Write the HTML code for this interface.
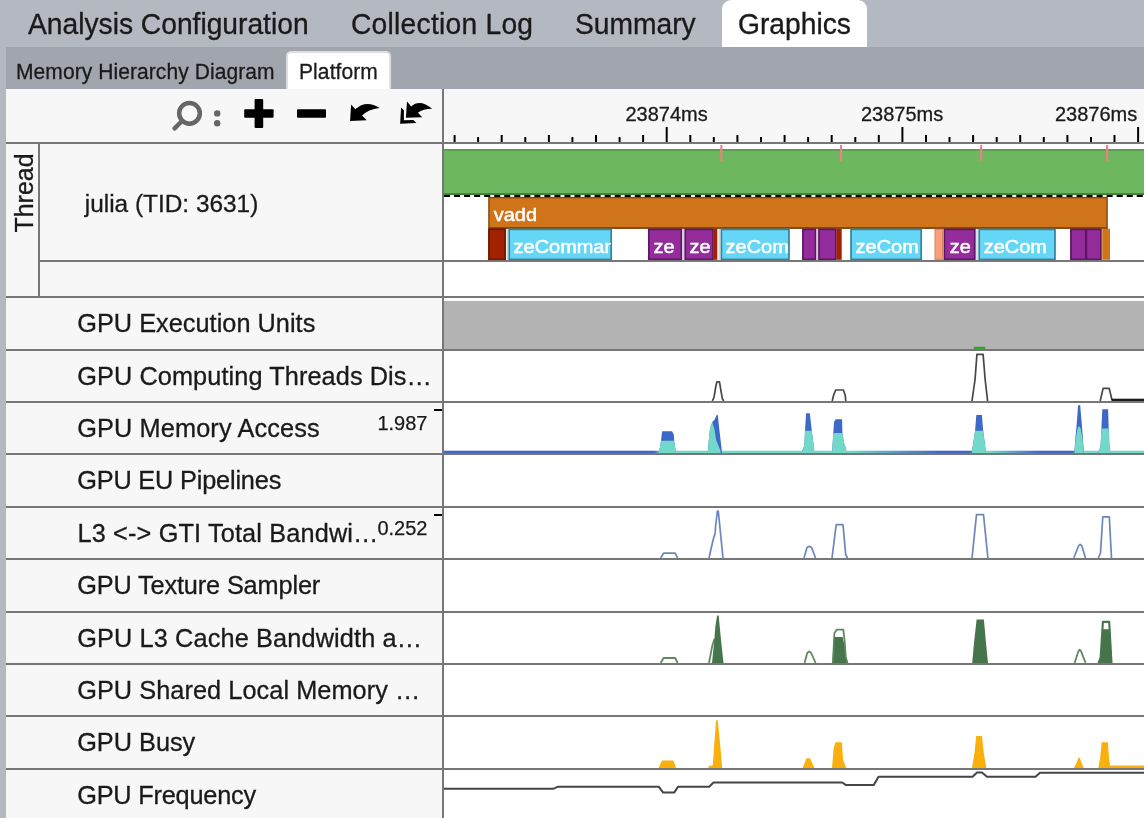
<!DOCTYPE html>
<html>
<head>
<meta charset="utf-8">
<title>Graphics - Platform</title>
<style>
html,body{margin:0;padding:0;}
body{width:1144px;height:818px;overflow:hidden;position:relative;background:#b4b8c1;font-family:"Liberation Sans",Arial,Helvetica,sans-serif;color:#1a1a1a;}
.abs{position:absolute;}
#topbar{left:0;top:0;width:1144px;height:47px;background:#b4b8c1;}
.mtab{position:absolute;top:-0.4px;height:46px;line-height:47px;font-size:30px;white-space:nowrap;-webkit-text-stroke:0.35px #1a1a1a;transform:scaleX(0.94);transform-origin:0 50%;}
#gtab{top:0;height:47px;left:722px;width:145px;transform:none;background:#fff;border-radius:9px 9px 0 0;}
#subbar{left:6px;top:47px;width:1138px;height:42px;background:#a1a5ae;}
.stab{position:absolute;font-size:21.85px;white-space:nowrap;line-height:24px;-webkit-text-stroke:0.3px #1a1a1a;transform:scaleX(0.9615);transform-origin:0 50%;}
#ptab{left:285.8px;top:50.8px;width:101px;height:40px;background:#fff;border:2px solid #dddee2;border-bottom:none;border-radius:5px 5px 0 0;}
#left{left:6px;top:89px;width:436px;height:729px;background:#f7f7f7;}
#ruler{left:444px;top:89px;width:700px;height:53px;background:#f7f7f7;}
#chartbg{left:444px;top:144px;width:700px;height:674px;background:#fff;}
.hl{position:absolute;height:2px;background:#777;}
.vl{position:absolute;width:2px;background:#777;}
.lab{-webkit-text-stroke:0.3px #1a1a1a;position:absolute;left:76px;font-size:25.3px;white-space:nowrap;line-height:30px;}
.val{-webkit-text-stroke:0.25px #1a1a1a;position:absolute;font-size:20px;white-space:nowrap;line-height:24px;text-align:right;width:80px;left:347.5px;}
.tk{position:absolute;left:434px;width:8px;height:2px;background:#000;}
.rl{position:absolute;top:102px;-webkit-text-stroke:0.3px #1a1a1a;font-size:20px;line-height:24px;white-space:nowrap;}
svg text{font-family:"Liberation Sans",Arial,Helvetica,sans-serif;}
</style>
</head>
<body>
<div id="topbar" class="abs"></div>
<div class="mtab" style="left:28px;">Analysis Configuration</div>
<div class="mtab" style="left:351px;letter-spacing:0.27px;">Collection Log</div>
<div class="mtab" style="left:575px;">Summary</div>
<div class="mtab" id="gtab"></div>
<div class="mtab" style="left:738px;">Graphics</div>

<div id="subbar" class="abs"></div>
<div id="ptab" class="abs"></div>
<div class="stab" style="left:16px;top:59.6px;letter-spacing:0.08px;">Memory Hierarchy Diagram</div>
<div class="stab" style="left:298.8px;top:59.6px;letter-spacing:0.1px;">Platform</div>

<div id="left" class="abs"></div>
<div id="ruler" class="abs"></div>
<div id="chartbg" class="abs"></div>

<!-- ruler labels -->
<div class="rl" style="left:625.5px;">23874ms</div>
<div class="rl" style="left:861px;">23875ms</div>
<div class="rl" style="left:1055px;">23876ms</div>

<!-- left panel labels -->
<div class="abs" style="left:6px;top:144px;width:32px;height:152px;">
  <div style="position:absolute;left:18.2px;top:49px;width:0;height:0;">
    <div style="position:absolute;transform:translate(-50%,-50%) rotate(-90deg);-webkit-text-stroke:0.3px #1a1a1a;font-size:25px;line-height:30px;white-space:nowrap;">Thread</div>
  </div>
</div>
<div class="lab" style="left:84.8px;top:188.5px;font-size:24.4px;">julia (TID: 3631)</div>

<div class="lab" style="top:308px;left:77.2px;letter-spacing:0.03px;">GPU Execution Units</div>
<div class="lab" style="top:361px;left:77.2px;letter-spacing:0.09px;">GPU Computing Threads Dis…</div>
<div class="lab" style="top:413px;left:77.2px;letter-spacing:0.13px;">GPU Memory Access</div>
<div class="lab" style="top:465px;left:77.2px;letter-spacing:-0.17px;">GPU EU Pipelines</div>
<div class="lab" style="top:518px;left:77.5px;letter-spacing:0.14px;">L3 &lt;-&gt; GTI Total Bandwi…</div>
<div class="lab" style="top:570px;left:77.2px;letter-spacing:-0.14px;">GPU Texture Sampler</div>
<div class="lab" style="top:622.6px;left:77.2px;letter-spacing:0.13px;">GPU L3 Cache Bandwidth a…</div>
<div class="lab" style="top:675px;left:77.2px;letter-spacing:0.06px;">GPU Shared Local Memory …</div>
<div class="lab" style="top:727px;left:77.2px;">GPU Busy</div>
<div class="lab" style="top:780px;left:77.2px;letter-spacing:-0.2px;">GPU Frequency</div>

<div class="val" style="top:411px;">1.987</div>
<div class="tk" style="top:409px;"></div>
<div class="val" style="top:516px;">0.252</div>
<div class="tk" style="top:514px;"></div>

<!-- chart svg -->
<svg class="abs" style="left:0;top:0;" width="1144" height="818" viewBox="0 0 1144 818">
<g id="toolbar-icons">
  <circle cx="189.5" cy="113.3" r="10.35" fill="none" stroke="#666" stroke-width="4.5"/>
  <line x1="181.5" y1="121.5" x2="174.6" y2="128.3" stroke="#666" stroke-width="4.5" stroke-linecap="round"/>
  <circle cx="217.2" cy="113.4" r="3.2" fill="#666"/>
  <circle cx="217.2" cy="123.3" r="3.2" fill="#666"/>
  <rect x="254.6" y="99" width="8.6" height="29" rx="1" fill="#000"/>
  <rect x="244.2" y="109.2" width="29.4" height="8.6" rx="1" fill="#000"/>
  <rect x="297" y="109.2" width="29" height="8.6" rx="1" fill="#000"/>
  <path d="M351.1,104.5 L350.1,120.9 L366.7,120.2 L362.1,115.6 Q368,109.2 379.6,107.9 Q366,99.5 355.4,109.3 Z" fill="#000"/>
  <path d="M407,101.6 L405.9,117.8 L422.2,117.2 L417.9,112.7 Q423,108.8 432.1,108.8 Q420,98.5 411.2,106.4 Z" fill="#000"/>
  <path d="M401.1,107.4 L400.1,123.7 L416.4,123 L413.4,119.9 L403.9,120.2 L403.9,110.3 Z" fill="#000"/>
</g>
<g id="ticks" stroke="#000" stroke-width="2"><line x1="454.6" y1="135" x2="454.6" y2="142"/><line x1="478.1" y1="137" x2="478.1" y2="142"/><line x1="501.7" y1="135" x2="501.7" y2="142"/><line x1="525.3" y1="137" x2="525.3" y2="142"/><line x1="548.9" y1="135" x2="548.9" y2="142"/><line x1="572.4" y1="137" x2="572.4" y2="142"/><line x1="596.0" y1="135" x2="596.0" y2="142"/><line x1="619.6" y1="137" x2="619.6" y2="142"/><line x1="643.1" y1="135" x2="643.1" y2="142"/><line x1="666.7" y1="127" x2="666.7" y2="142"/><line x1="690.3" y1="135" x2="690.3" y2="142"/><line x1="713.8" y1="137" x2="713.8" y2="142"/><line x1="737.4" y1="135" x2="737.4" y2="142"/><line x1="761.0" y1="137" x2="761.0" y2="142"/><line x1="784.6" y1="135" x2="784.6" y2="142"/><line x1="808.1" y1="137" x2="808.1" y2="142"/><line x1="831.7" y1="135" x2="831.7" y2="142"/><line x1="855.3" y1="137" x2="855.3" y2="142"/><line x1="878.8" y1="135" x2="878.8" y2="142"/><line x1="902.4" y1="127" x2="902.4" y2="142"/><line x1="926.0" y1="135" x2="926.0" y2="142"/><line x1="949.5" y1="137" x2="949.5" y2="142"/><line x1="973.1" y1="135" x2="973.1" y2="142"/><line x1="996.7" y1="137" x2="996.7" y2="142"/><line x1="1020.2" y1="135" x2="1020.2" y2="142"/><line x1="1043.8" y1="137" x2="1043.8" y2="142"/><line x1="1067.4" y1="135" x2="1067.4" y2="142"/><line x1="1091.0" y1="137" x2="1091.0" y2="142"/><line x1="1114.5" y1="135" x2="1114.5" y2="142"/><line x1="1138.1" y1="127" x2="1138.1" y2="142"/></g>
<g id="thread">
  <rect x="444" y="149.5" width="700" height="45.5" fill="#6cb75f"/>
  <rect x="444" y="149.2" width="700" height="1.3" fill="#4f8846"/>
  <rect x="444" y="193.2" width="700" height="1.8" fill="#437a3a"/>
  <line x1="444" y1="196" x2="1144" y2="196" stroke="#000" stroke-width="2.2" stroke-dasharray="6.02 4.02"/>
  <g fill="#f08080">
    <rect x="720.3" y="145" width="2.1" height="16"/>
    <rect x="840" y="145" width="2.1" height="16"/>
    <rect x="980.1" y="145" width="2.1" height="16"/>
    <rect x="1106.1" y="145" width="2.1" height="16"/>
  </g>
  <rect x="488.9" y="197.6" width="618.2" height="30.4" fill="#cf7419" stroke="#87490c" stroke-width="1.4"/>
</g>
<rect x="488.3" y="227.3" width="619.4" height="1.5" fill="#7d450c"/>
<g id="blocks" stroke-width="1.7">
  <rect x="488.9" y="229.2" width="16.2" height="30.3" fill="#a12200" stroke="#6e1700"/>
  <rect x="509.2" y="229.4" width="102" height="30" fill="#66d6f6" stroke="#35829c"/>
  <rect x="648.8" y="229.4" width="32.6" height="30" fill="#942c9c" stroke="#5c1763"/>
  <rect x="685.2" y="229.4" width="27.8" height="30" fill="#942c9c" stroke="#5c1763"/>
  <rect x="713.7" y="228.8" width="3.6" height="31" fill="#a12200" stroke="none"/>
  <rect x="721.4" y="229.4" width="67.6" height="30" fill="#66d6f6" stroke="#35829c"/>
  <rect x="802.9" y="229.4" width="12.6" height="30" fill="#942c9c" stroke="#5c1763"/>
  <rect x="819" y="229.4" width="16.8" height="30" fill="#942c9c" stroke="#5c1763"/>
  <rect x="836.4" y="228.8" width="5.3" height="31" fill="#a12200" stroke="none"/>
  <rect x="851" y="229.4" width="70.2" height="30" fill="#66d6f6" stroke="#35829c"/>
  <rect x="935" y="229.4" width="7.6" height="30" fill="#ff9e76" stroke="#c98463" stroke-width="1"/>
  <rect x="944.4" y="229.4" width="30.4" height="30" fill="#942c9c" stroke="#5c1763"/>
  <rect x="979.2" y="229.4" width="75.8" height="30" fill="#66d6f6" stroke="#35829c"/>
  <rect x="1070.9" y="229.4" width="14.9" height="30" fill="#942c9c" stroke="#5c1763"/>
  <rect x="1086.4" y="229.4" width="14.5" height="30" fill="#942c9c" stroke="#5c1763"/>
  <rect x="1102.2" y="228.8" width="7.8" height="31" fill="#cf7419" stroke="none"/>
  <g fill="#cfcfcf" stroke="none">
    <rect x="506.6" y="229" width="1.3" height="31"/>
    <rect x="682.5" y="229" width="1.3" height="31"/>
    <rect x="718.5" y="229" width="1.3" height="31"/>
    <rect x="816.7" y="229" width="1.3" height="31"/>
    <rect x="976.3" y="229" width="1.3" height="31"/>
  </g>
</g>
<defs><filter id="tb" x="-5%" y="-20%" width="110%" height="140%"><feGaussianBlur stdDeviation="0.45"/></filter></defs>
<g id="blocktext" font-size="18.3" fill="#fff" stroke="#fff" stroke-width="0.5" filter="url(#tb)">
  <text transform="translate(493.8,220.8) scale(1.09,1)">vadd</text>
  <svg x="509" y="229" width="101.8" height="31"><text transform="translate(4.6,24) scale(1.09,1)">zeCommand</text></svg>
  <text transform="translate(653.6,253) scale(1.09,1)">ze</text>
  <text transform="translate(689.6,253) scale(1.09,1)">ze</text>
  <text transform="translate(725.6,253) scale(1.09,1)">zeCom</text>
  <text transform="translate(855.6,253) scale(1.09,1)">zeCom</text>
  <text transform="translate(949.8,253) scale(1.09,1)">ze</text>
  <text transform="translate(983.8,253) scale(1.09,1)">zeCom</text>
</g>
<defs><filter id="cb" x="0" y="0" width="100%" height="100%" filterUnits="userSpaceOnUse"><feGaussianBlur stdDeviation="0.7"/></filter></defs><g id="charts" filter="url(#cb)"><rect x="444" y="301" width="700" height="48" fill="#b3b3b3"/>
<rect x="973.8" y="346.8" width="11.4" height="2.1" fill="#22a722"/>
<polyline points="712.3,401.0 714.0,397.4 715.7,387.0 716.9,381.8 719.5,381.8 721.0,391.2 722.4,398.8 723.8,401.0" fill="none" stroke="#3c3c3c" stroke-width="1.7" stroke-opacity="0.95" stroke-linejoin="round"/>
<polyline points="832.2,401.0 833.6,395.3 835.7,390.0 843.4,390.0 845.2,395.3 845.8,401.0" fill="none" stroke="#3c3c3c" stroke-width="1.7" stroke-opacity="0.95" stroke-linejoin="round"/>
<polyline points="972.0,401.0 975.1,379.0 976.9,354.4 983.1,354.4 985.1,379.0 987.6,401.0" fill="none" stroke="#3c3c3c" stroke-width="1.7" stroke-opacity="0.95" stroke-linejoin="round"/>
<polyline points="1100.2,401.0 1103.1,388.4 1109.2,388.4 1112.0,400.0" fill="none" stroke="#3c3c3c" stroke-width="1.7" stroke-opacity="0.95" stroke-linejoin="round"/>
<rect x="1111.5" y="398.7" width="33" height="2.3" fill="#1a1a1a"/>
<defs><linearGradient id="mg" x1="444" x2="1144" gradientUnits="userSpaceOnUse">
<stop offset="0" stop-color="#3c68c6"/><stop offset="0.3014" stop-color="#3c68c6"/><stop offset="0.3086" stop-color="#72d8c9"/>
<stop offset="0.5800" stop-color="#72d8c9"/><stop offset="0.7086" stop-color="#3c68c6"/><stop offset="0.7543" stop-color="#3c68c6"/>
<stop offset="0.7586" stop-color="#72d8c9"/><stop offset="0.7800" stop-color="#72d8c9"/><stop offset="0.8514" stop-color="#3c68c6"/><stop offset="0.8986" stop-color="#3c68c6"/>
<stop offset="0.9029" stop-color="#72d8c9"/><stop offset="1" stop-color="#72d8c9"/></linearGradient></defs>
<rect x="444" y="450.7" width="700" height="2.3" fill="url(#mg)"/>
<polygon points="658.4,453.0 659.9,447.7 661.0,440.7 662.1,431.2 672.0,431.2 673.8,434.5 674.2,440.7 676.0,453.0" fill="#3c68c6"/>
<polygon points="658.4,453.0 659.9,447.7 661.0,440.7 674.2,440.7 676.0,453.0" fill="#72d8c9"/>
<polygon points="707.9,453.0 708.7,441.0 710.1,427.9 712.3,422.0 714.5,419.8 716.7,415.0 717.8,415.0 719.3,429.3 720.7,441.0 722.0,453.0" fill="#3c68c6"/>
<polygon points="707.9,453.0 708.7,441.0 710.1,427.9 712.3,422.0 714.5,429.3 716.0,439.6 720.4,450.6 720.6,453.0" fill="#72d8c9"/>
<polygon points="802.1,453.0 802.3,450.6 804.3,445.5 805.0,430.8 806.1,413.2 809.8,413.2 811.6,429.3 813.5,444.0 814.0,450.6 814.2,453.0" fill="#3c68c6"/>
<polygon points="802.1,453.0 802.3,450.6 804.3,445.5 805.0,430.8 811.7,430.8 813.5,444.0 814.0,450.6 814.2,453.0" fill="#72d8c9"/>
<polygon points="832.0,453.0 832.2,450.6 833.3,433.0 834.0,422.0 835.8,419.2 842.1,419.2 842.4,433.0 844.3,444.0 845.7,447.7 846.3,453.0" fill="#3c68c6"/>
<polygon points="832.0,453.0 832.2,450.6 833.3,433.0 842.4,433.0 844.3,444.0 845.7,447.7 846.3,453.0" fill="#72d8c9"/>
<polygon points="971.7,453.0 975.1,430.7 976.3,415.1 981.9,415.1 983.2,430.7 986.0,453.0" fill="#3c68c6"/>
<polygon points="971.7,453.0 975.1,430.7 983.2,430.7 986.0,453.0" fill="#72d8c9"/>
<polygon points="1074.3,453.0 1075.2,440.0 1076.5,426.5 1077.4,415.0 1078.0,405.2 1080.2,405.2 1081.0,415.0 1082.0,426.5 1083.0,440.0 1083.9,453.0" fill="#3c68c6"/>
<polygon points="1074.5,453.0 1075.5,440.0 1077.6,428.5 1078.5,426.5 1079.6,426.5 1080.6,428.5 1082.7,440.0 1083.7,453.0" fill="#72d8c9"/>
<polygon points="1098.2,453.0 1099.8,448.5 1100.6,445.0 1101.4,428.5 1102.3,409.2 1108.1,409.2 1108.7,428.5 1109.4,445.0 1110.2,453.0" fill="#3c68c6"/>
<polygon points="1098.2,453.0 1099.8,448.5 1100.6,445.0 1101.4,428.5 1108.7,428.5 1109.4,445.0 1110.2,453.0" fill="#72d8c9"/>
<polyline points="660.6,558.0 663.6,553.2 675.2,553.2 677.6,558.0" fill="none" stroke="#5d7db5" stroke-width="1.7" stroke-opacity="0.92" stroke-linejoin="round"/>
<polyline points="709.0,558.0 713.0,540.2 715.2,532.9 715.5,527.0 717.4,511.2 718.3,511.2 723.0,558.0" fill="none" stroke="#5d7db5" stroke-width="1.7" stroke-opacity="0.92" stroke-linejoin="round"/>
<polyline points="804.0,558.0 807.0,547.5 809.3,546.3 811.6,547.5 815.5,558.0" fill="none" stroke="#5d7db5" stroke-width="1.7" stroke-opacity="0.92" stroke-linejoin="round"/>
<polyline points="832.0,558.0 836.2,524.7 843.0,524.7 845.7,554.5 847.5,558.0" fill="none" stroke="#5d7db5" stroke-width="1.7" stroke-opacity="0.92" stroke-linejoin="round"/>
<polyline points="972.0,558.0 976.5,514.7 983.5,514.7 987.9,558.0" fill="none" stroke="#5d7db5" stroke-width="1.7" stroke-opacity="0.92" stroke-linejoin="round"/>
<polyline points="1073.8,558.0 1078.5,546.0 1080.2,544.3 1081.9,546.0 1085.5,558.0" fill="none" stroke="#5d7db5" stroke-width="1.7" stroke-opacity="0.92" stroke-linejoin="round"/>
<polyline points="1098.3,558.0 1100.5,553.0 1102.8,516.8 1109.3,516.8 1111.5,558.0" fill="none" stroke="#5d7db5" stroke-width="1.7" stroke-opacity="0.92" stroke-linejoin="round"/>
<polyline points="660.6,663.0 663.6,658.0 675.2,658.0 677.6,663.0" fill="none" stroke="#56845a" stroke-width="1.8" stroke-opacity="0.95" stroke-linejoin="round"/>
<polyline points="709.0,663.0 712.2,646.0 714.4,639.0" fill="none" stroke="#56845a" stroke-width="1.8" stroke-opacity="0.95" stroke-linejoin="round"/>
<polygon points="712.0,663.0 714.2,641.0 715.4,626.0 717.1,615.4 718.7,615.4 720.6,636.0 723.5,663.0" fill="#47754b"/>
<polyline points="804.6,663.0 807.2,653.0 809.2,651.4 811.2,653.0 815.6,663.0" fill="none" stroke="#56845a" stroke-width="1.8" stroke-opacity="0.95" stroke-linejoin="round"/>
<polygon points="832.4,663.0 833.4,645.0 834.0,637.0 842.6,637.0 844.4,645.0 845.6,657.0 847.2,663.0" fill="#47754b"/>
<polyline points="832.9,663.0 834.4,633.0 836.9,629.6 843.3,629.6 844.6,641.0 845.7,656.4 847.4,663.0" fill="none" stroke="#56845a" stroke-width="1.8" stroke-opacity="0.95" stroke-linejoin="round"/>
<polygon points="972.2,663.0 974.0,643.0 976.6,619.4 983.9,619.4 986.0,643.0 988.0,663.0" fill="#47754b"/>
<polyline points="1074.6,663.0 1078.4,651.2 1079.7,649.6 1081.0,651.2 1085.6,663.0" fill="none" stroke="#56845a" stroke-width="1.8" stroke-opacity="0.95" stroke-linejoin="round"/>
<polygon points="1098.4,663.0 1100.6,658.0 1102.2,629.2 1110.0,629.2 1111.6,663.0" fill="#47754b"/>
<polyline points="1098.4,663.0 1100.6,658.0 1102.9,621.9 1109.2,621.9 1111.5,663.0" fill="none" stroke="#47754b" stroke-width="2.1" stroke-linejoin="round"/>
<polygon points="658.6,768.0 660.0,764.5 662.2,760.4 673.2,760.4 675.0,764.5 676.0,768.0" fill="#f9b008"/>
<polygon points="708.4,768.0 708.8,766.1 712.8,765.2 714.2,745.0 716.1,720.2 717.7,720.2 719.7,739.5 722.2,768.0" fill="#f9b008"/>
<polygon points="802.5,768.0 804.5,763.5 806.4,758.2 810.0,758.2 812.4,763.5 814.5,768.0" fill="#f9b008"/>
<polygon points="832.0,768.0 833.6,748.7 835.4,742.2 841.8,742.2 843.1,759.7 846.2,768.0" fill="#f9b008"/>
<polygon points="972.0,768.0 974.6,752.0 976.2,736.0 982.0,736.0 983.6,752.0 986.4,768.0" fill="#f9b008"/>
<polygon points="1073.8,768.0 1076.5,763.0 1078.5,757.8 1079.7,757.8 1081.6,763.0 1083.8,768.0" fill="#f9b008"/>
<polygon points="1098.3,768.0 1100.2,758.0 1101.6,742.2 1107.9,742.2 1109.0,758.0 1110.0,765.5 1144.0,765.5 1144.0,768.0" fill="#f9b008"/>
<polyline points="444.0,788.8 553.3,788.8 558.0,786.7 658.7,786.7 663.2,792.6 674.2,792.6 678.0,786.7 709.2,786.7 713.5,782.5 842.3,782.5 845.6,784.9 873.8,784.9 878.5,776.8 972.6,776.8 977.0,772.5 982.0,772.5 987.0,776.8 1035.5,776.8 1040.0,772.8 1144.0,772.8" fill="none" stroke="#444" stroke-width="2" stroke-linejoin="round"/></g>
</svg>

<!-- structural lines -->
<div class="vl" style="left:442px;top:89px;height:729px;"></div>
<div class="vl" style="left:38px;top:144px;height:152px;"></div>
<div class="hl" style="left:6px;top:142px;width:1138px;"></div>
<div class="hl" style="left:40px;top:260px;width:1104px;"></div>
<div class="hl" style="left:6px;top:296px;width:1138px;"></div>
<div class="hl" style="left:6px;top:349px;width:1138px;"></div>
<div class="hl" style="left:6px;top:401px;width:1138px;"></div>
<div class="hl" style="left:6px;top:453px;width:1138px;"></div>
<div class="hl" style="left:6px;top:506px;width:1138px;"></div>
<div class="hl" style="left:6px;top:558px;width:1138px;"></div>
<div class="hl" style="left:6px;top:611px;width:1138px;"></div>
<div class="hl" style="left:6px;top:663px;width:1138px;"></div>
<div class="hl" style="left:6px;top:715px;width:1138px;"></div>
<div class="hl" style="left:6px;top:768px;width:1138px;"></div>
</body>
</html>
